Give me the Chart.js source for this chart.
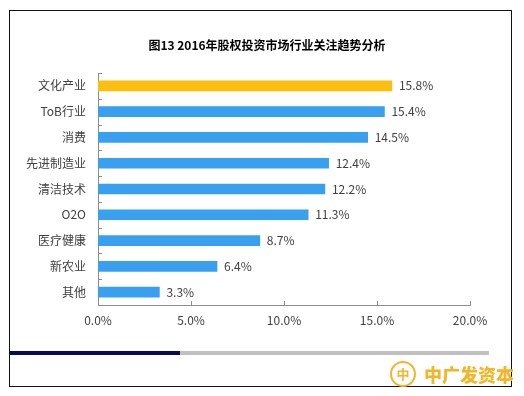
<!DOCTYPE html>
<html>
<head>
<meta charset="utf-8">
<script src="https://cdn.jsdelivr.net/npm/chart.js@4"></script>
<style>
  html, body { margin: 0; padding: 0; background: #fff; }
  #wrap { position: relative; width: 524px; height: 396px; overflow: hidden; }
  #frame { position: absolute; left: 9px; top: 10px; width: 501px; height: 375px; border: 1px solid #111; }
  #title { position: absolute; left: 67px; width: 400px; top: 36px; text-align: center;
    font: bold 12px "Noto Sans CJK SC", sans-serif; color: #000; line-height: 18px; }
  #navy { position: absolute; left: 9px; top: 351px; width: 171px; height: 4px; background: #0a0a5a; }
  #grey { position: absolute; left: 180px; top: 351px; width: 309px; height: 4px; background: #c0c0c0; }
  #logo { position: absolute; left: 390px; top: 360px; height: 28px; display: flex; align-items: center; }
  #logo .ring { width: 22px; height: 22px; border: 2px solid #f3b62a; border-radius: 50%; color: #f3b62a;
    font: bold 13px "Noto Sans CJK SC"; text-align: center; line-height: 22px; }
  #logo .name { margin-left: 8px; color: #f3b62a; font: 900 18px "Noto Sans CJK SC"; }
  canvas { position: absolute; left: 0; top: 0; }
</style>
</head>
<body>
<div id="wrap">
  <div id="frame"></div>
  <canvas id="chart" width="524" height="396"></canvas>
  <div id="title">图13 2016年股权投资市场行业关注趋势分析</div>
  <div id="navy"></div>
  <div id="grey"></div>
  <div id="logo"><div class="ring">中</div><div class="name">中广发资本</div></div>
</div>
<script>
// 图13 2016年股权投资市场行业关注趋势分析
const categories = ['文化产业', 'ToB行业', '消费', '先进制造业', '清洁技术', 'O2O', '医疗健康', '新农业', '其他'];
const shares = [15.8, 15.4, 14.5, 12.4, 12.2, 11.3, 8.7, 6.4, 3.3];
const xTicks = [0, 5, 10, 15, 20];

const AXIS = '#8c8c8c';
const TEXT = '#404040';
const FONT = '"Noto Sans CJK SC", "DejaVu Sans", sans-serif';

// small inward tick marks + value labels
const decor = {
    id: 'decor',
    afterDatasetsDraw(chart) {
        const c = chart.ctx;
        const x = chart.scales.x, y = chart.scales.y;
        c.save();
        c.strokeStyle = AXIS;
        c.lineWidth = 1;
        c.beginPath();
        const step = y.height / categories.length;
        for (let i = 0; i <= categories.length; i++) {
            const py = Math.round(y.top + i * step) + 0.5;
            c.moveTo(x.left, py);
            c.lineTo(x.left + 4, py);
        }
        xTicks.forEach(v => {
            const px = Math.round(x.getPixelForValue(v)) + 0.5;
            c.moveTo(px, y.bottom);
            c.lineTo(px, y.bottom - 4);
        });
        c.stroke();

        c.fillStyle = TEXT;
        c.font = '12px ' + FONT;
        c.textAlign = 'left';
        c.textBaseline = 'middle';
        chart.getDatasetMeta(0).data.forEach((bar, i) => {
            c.fillText(shares[i].toFixed(1) + '%', bar.x + 7, bar.y);
        });
        c.restore();
    }
};

new Chart(document.getElementById('chart'), {
    type: 'bar',
    data: {
        labels: categories,
        datasets: [{
            data: shares,
            backgroundColor: ctx => ctx.dataIndex === 0 ? '#fdbf0f' : '#39a0ef',
            barThickness: 10
        }]
    },
    options: {
        indexAxis: 'y',
        responsive: false,
        animation: false,
        layout: { padding: { top: 73, right: 54, bottom: 66, left: 0 } },
        plugins: {
            legend: { display: false },
            tooltip: { enabled: false },
            title: { display: false }
        },
        scales: {
            x: {
                min: 0, max: 20,
                afterBuildTicks: s => { s.ticks = xTicks.map(v => ({ value: v })); },
                afterFit: s => { s.height = 25; },
                grid: { display: false, drawTicks: false },
                border: { display: true, color: AXIS },
                ticks: {
                    padding: 8,
                    color: TEXT,
                    font: { family: FONT, size: 12 },
                    callback: v => v.toFixed(1) + '%'
                }
            },
            y: {
                afterFit: s => { s.width = 98; },
                grid: { display: false, drawTicks: false },
                border: { display: true, color: AXIS },
                ticks: {
                    padding: 12,
                    color: TEXT,
                    font: { family: FONT, size: 12 }
                }
            }
        }
    },
    plugins: [decor]
});
</script>
</body>
</html>
